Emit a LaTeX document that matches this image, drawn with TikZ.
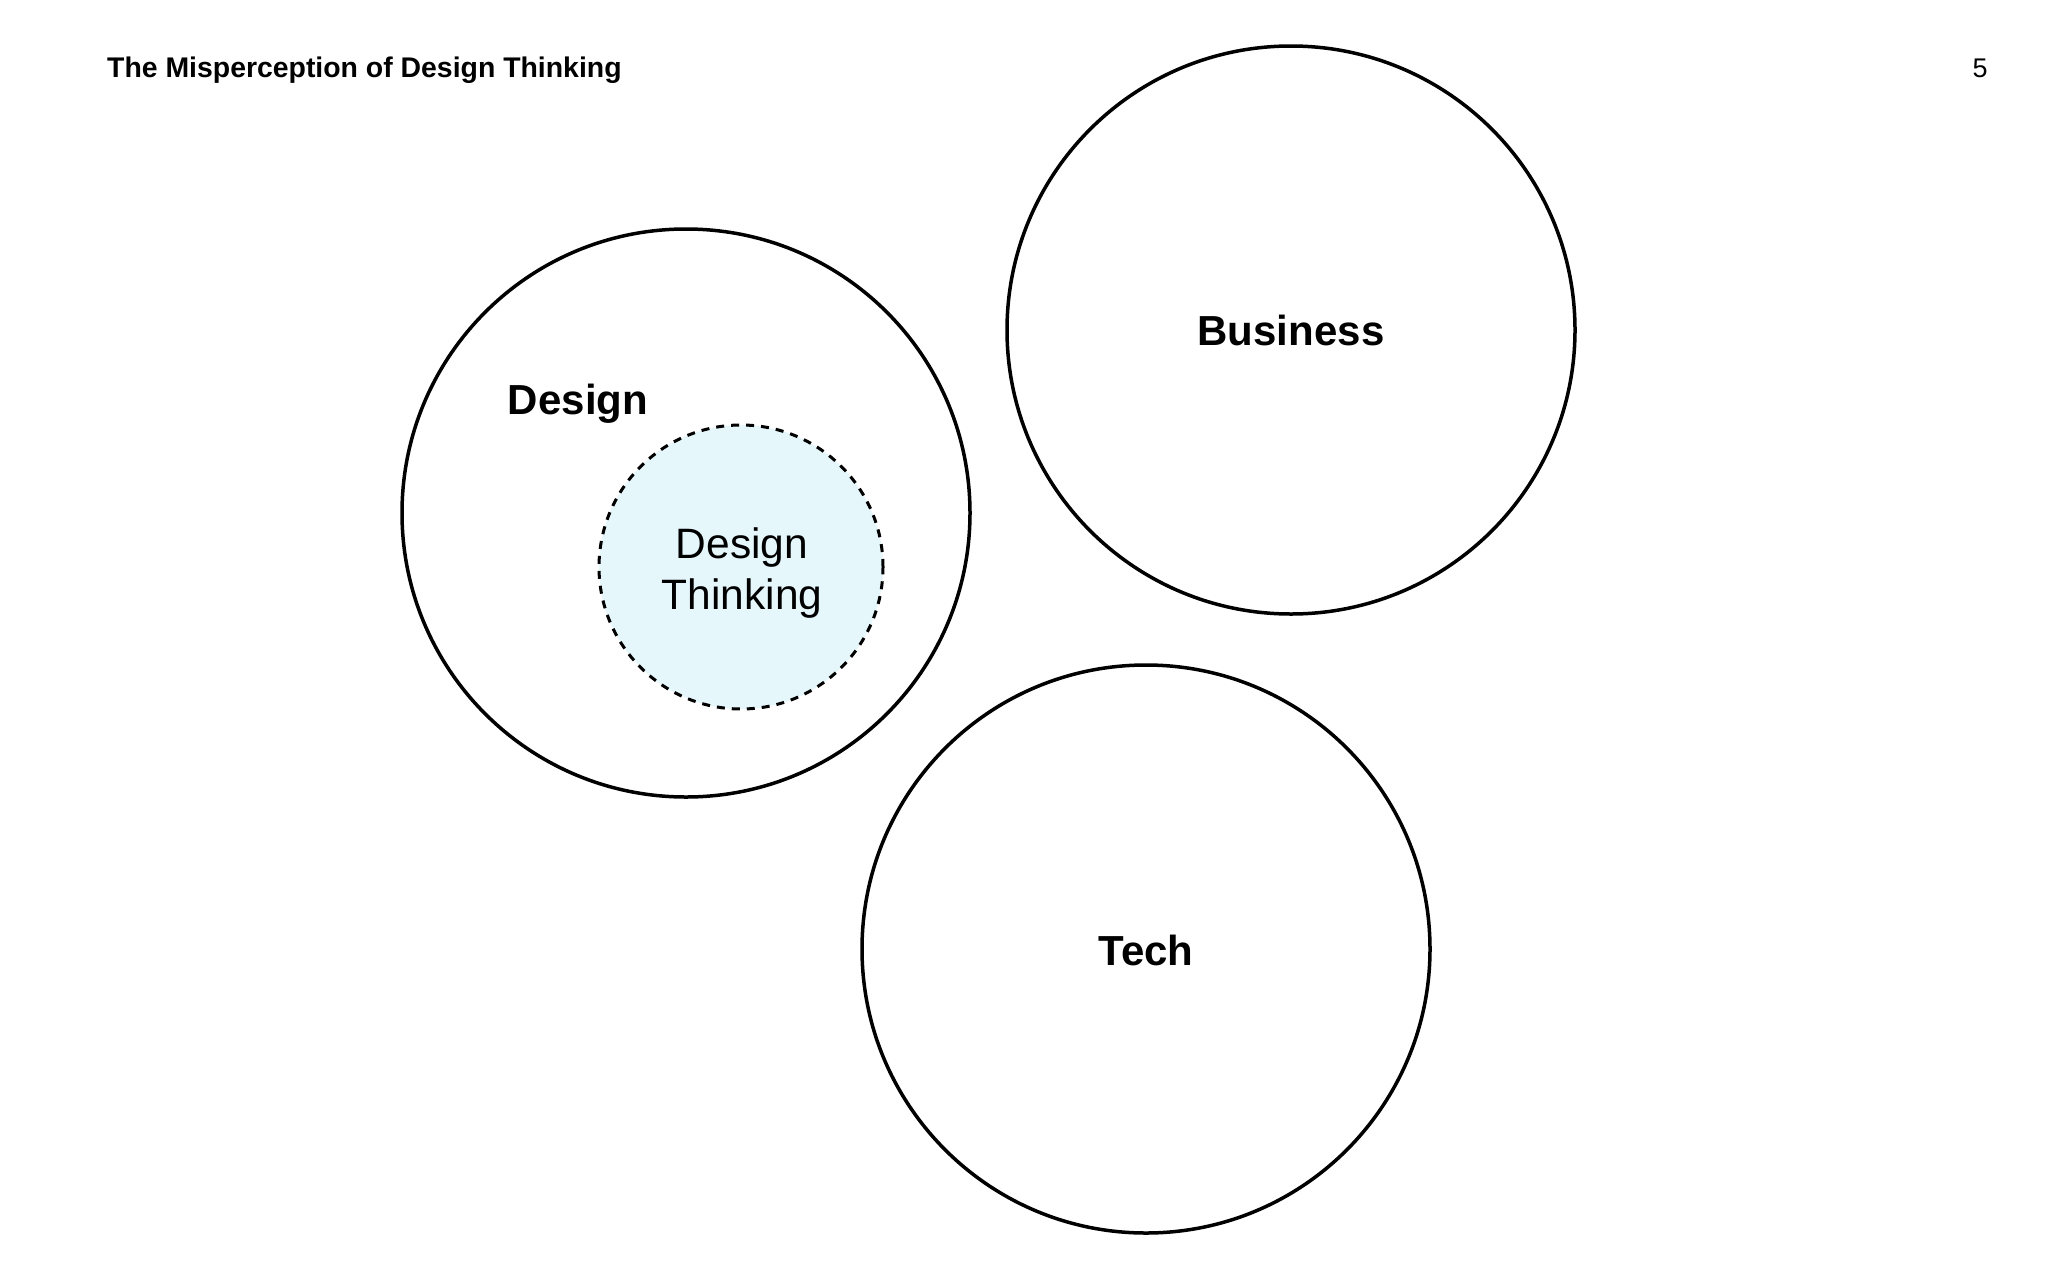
\documentclass[tikz,border=0pt]{standalone}
\usepackage{fontspec}
\setmainfont{Liberation Sans}
\definecolor{dtfill}{RGB}{230,247,252}
\begin{document}
\begin{tikzpicture}[x=1pt,y=-1pt,
  bigcirc/.style={circle,draw=black,line width=3.5pt,minimum size=568pt,inner sep=0pt},
  dtcirc/.style={circle,draw=black,line width=3pt,dash pattern=on 8pt off 7pt,fill=dtfill,minimum size=284pt,inner sep=0pt},
  biglabel/.style={font=\fontsize{42}{50}\selectfont\bfseries,inner sep=0pt,anchor=base},
  dtlabel/.style={font=\fontsize{42.5}{51}\selectfont,align=center,inner sep=0pt},
  headtxt/.style={font=\fontsize{27}{32}\selectfont,inner sep=0pt}]
\useasboundingbox[fill=white] (0,0) rectangle (2048,1280);
\node[headtxt,font=\fontsize{28.4}{32}\selectfont\bfseries,anchor=base west] (title) at (107,77) {The Misperception of Design Thinking};
\node[headtxt,anchor=base] (page) at (1980,77) {5};
\node[bigcirc] (design) at (686,513) {};
\node[bigcirc] (business) at (1291,330) {};
\node[bigcirc] (tech) at (1146,949) {};
\node[dtcirc] (dt) at (741,567) {};
\node[biglabel] (designlbl) at (578,414) {Design};
\node[biglabel] (businesslbl) at (1291,345) {Business};
\node[biglabel] (techlbl) at (1146,965) {Tech};
\node[dtlabel,anchor=base] (dtl1) at (742,558) {Design};
\node[dtlabel,anchor=base] (dtl2) at (742,609) {Thinking};
\end{tikzpicture}
\end{document}
